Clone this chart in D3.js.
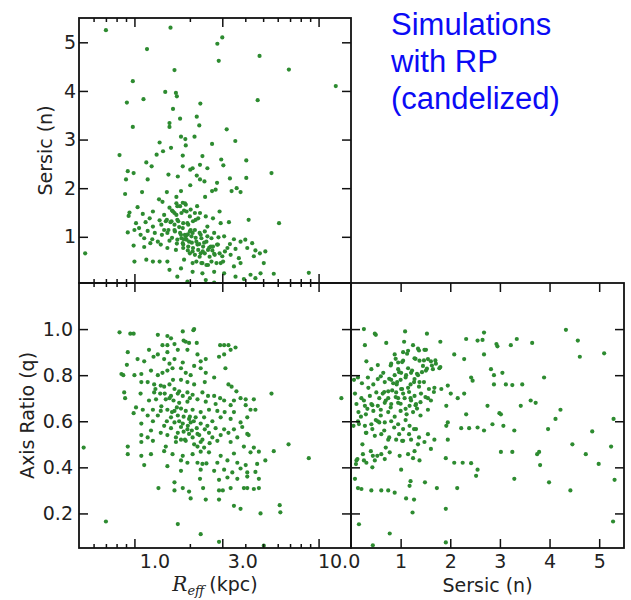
<!doctype html>
<html lang="en">
<head>
<meta charset="utf-8">
<script src="https://cdnjs.cloudflare.com/ajax/libs/d3/7.8.5/d3.min.js"></script>
<style>
  body { margin: 0; background: #fff; }
  svg { display: block; }
  .axis text { font-family: 'DejaVu Sans', sans-serif; font-size: 19px; fill: #222; }
  .axis line { stroke: #111; stroke-width: 1.5; }
  .frame { fill: none; stroke: #111; stroke-width: 1.8; }
  .dot { fill: #2d8b30; }
  .label { font-family: 'DejaVu Sans', sans-serif; font-size: 19px; fill: #222; }
  .note { font-family: 'Liberation Sans', Arial, sans-serif; font-size: 31px; fill: #0b0bf5; }
</style>
</head>
<body>
<script>

// ---- data ----
// top-left: effective radius (kpc) vs Sersic index
const reffSersic = [
  [0.70,5.25],[1.57,5.30],[1.17,4.86],[2.82,4.97],[3.0,5.10],[2.87,4.62],[4.78,4.72],[6.9,4.44],[1.65,4.43],[0.98,4.20],
  [12.4,4.10],[0.91,3.76],[1.12,3.83],[4.67,3.81],[1.47,3.98],[1.68,3.96],[1.70,3.89],[2.28,3.74],[1.62,3.63],[2.18,3.47],
  [1.77,3.43],[1.55,3.34],[1.55,3.26],[2.25,3.29],[0.98,3.26],[3.17,3.21],[1.79,3.06],[1.89,3.01],[2.12,3.06],[1.90,2.88],
  [2.64,2.91],[3.53,2.97],[1.37,2.94],[1.58,2.83],[1.43,2.76],[1.32,2.69],[0.83,2.68],[1.83,2.67],[2.34,2.66],[2.96,2.59],
  [4.05,2.57],[1.16,2.53],[1.24,2.45],[1.83,2.45],[2.27,2.48],[3.04,2.47],[2.07,2.41],[2.49,2.41],[2.01,2.38],[0.92,2.35],
  [0.99,2.31],[5.55,2.31],[1.53,2.28],[2.18,2.26],[1.72,2.24],[1.18,2.18],[2.27,2.18],[2.40,2.14],[0.90,2.18],[4.05,2.21],
  [3.30,2.20],[2.81,2.11],[2.01,2.06],[3.59,2.0],[3.77,1.92],[3.37,1.94],[2.76,1.97],[2.64,1.94],[1.50,1.92],[1.79,1.94],
  [0.89,1.88],[1.10,1.92],[2.42,1.82],[1.69,1.82],[1.36,1.77],[1.42,1.72],[1.04,1.61],[1.83,1.70],[1.90,1.66],[2.19,1.63],
  [2.90,1.52],[0.94,1.50],[1.26,1.52],[0.93,1.43],[1.11,1.47],[1.60,1.54],[1.71,1.63],[1.65,1.49],[1.86,1.54],[2.02,1.56],
  [2.27,1.49],[2.44,1.42],[2.67,1.38],[1.48,1.32],[1.37,1.34],[1.57,1.30],[1.71,1.35],[1.94,1.28],[2.15,1.35],[1.21,1.38],
  [1.02,1.28],[4.17,1.35],[6.1,1.28],[3.26,1.30],[2.94,1.28],[2.49,1.21],[2.02,1.14],[1.83,1.18],[1.65,1.14],[1.45,1.14],
  [1.26,1.21],[1.18,1.12],[1.06,1.18],[1.0,1.14],[0.92,1.09],[1.08,1.04],[1.29,1.08],[1.41,1.04],[1.51,1.08],[1.79,1.04],
  [1.90,1.01],[2.07,1.08],[2.29,1.04],[2.49,1.01],[2.71,1.08],[2.86,0.99],[3.07,1.01],[3.47,0.95],[3.77,0.90],[4.0,0.94],
  [4.36,0.87],[1.13,0.97],[1.22,0.87],[1.34,0.90],[1.55,0.92],[1.71,0.94],[1.83,0.87],[1.98,0.90],[2.20,0.84],[2.39,0.88],
  [2.60,0.80],[2.81,0.84],[3.20,0.77],[3.54,0.75],[4.10,0.77],[4.54,0.72],[4.80,0.66],[5.14,0.70],[0.54,0.66],[0.99,0.82],
  [1.13,0.79],[1.39,0.84],[1.51,0.77],[1.68,0.73],[1.84,0.77],[2.07,0.70],[2.29,0.66],[2.71,0.65],[3.0,0.60],[3.33,0.63],
  [3.69,0.56],[4.45,0.60],[5.04,0.46],[1.0,0.49],[1.16,0.53],[1.26,0.49],[1.37,0.49],[1.51,0.49],[1.86,0.53],[2.07,0.46],
  [2.34,0.46],[2.51,0.42],[2.94,0.46],[3.47,0.39],[3.77,0.46],[1.55,0.32],[1.79,0.35],[2.07,0.28],[2.34,0.25],[2.71,0.28],
  [3.07,0.25],[3.54,0.18],[4.27,0.22],[4.84,0.25],[5.71,0.24],[8.85,0.26],[1.71,0.18],[2.44,0.11],[3.93,0.13],[4.54,0.15],
  [1.94,0.08],[2.71,0.06],
  [1.69,1.69],[1.77,1.63],[1.88,1.69],[1.62,1.52],[1.69,1.45],[1.80,1.49],[1.92,1.52],[2.0,1.42],[2.13,1.49],[1.50,1.35],
  [1.59,1.32],[1.73,1.32],[1.84,1.28],[1.96,1.25],[2.08,1.32],[2.22,1.38],[1.53,1.14],[1.66,1.11],[1.77,1.08],[1.88,1.04],
  [2.0,1.11],[2.13,1.14],[2.26,1.08],[2.41,1.11],[1.80,0.97],[1.92,0.94],[2.04,1.01],[2.17,0.90],[2.31,0.97],[2.46,0.90],
  [2.62,0.97],[1.84,0.84],[1.96,0.80],[2.08,0.77],[2.22,0.73],[2.36,0.80],[2.51,0.73],[2.67,0.80],[2.84,0.84],[2.0,0.66],
  [2.13,0.63],[2.26,0.59],[2.41,0.66],[2.56,0.59],[2.73,0.63],[2.90,0.66],[2.17,0.49],[2.31,0.46],[2.46,0.42],[2.62,0.49],
  [2.79,0.46],[3.03,0.49],
  [1.45,1.45],[1.55,1.60],[1.65,1.25],[1.75,1.20],[1.85,0.95],[1.95,1.05],[2.05,0.88],[2.15,0.98],[1.60,0.98],[1.70,0.86],
  [2.25,0.85],[2.35,0.70],[2.55,0.78],[1.40,1.25],[1.95,0.72],[2.65,0.72],[3.10,0.70],[3.30,0.85],[1.25,0.95],[1.15,1.30]
];

// bottom-left: effective radius (kpc) vs axis ratio
const reffAxis = [
  [0.83,0.986],[0.95,0.98],[0.99,0.98],[1.34,0.975],[1.51,0.97],[1.83,0.99],[2.09,0.995],[2.11,1.0],[0.92,0.90],[0.91,0.845],
  [1.04,0.87],[1.13,0.86],[1.20,0.91],[1.27,0.88],[1.34,0.89],[1.42,0.93],[1.51,0.93],[1.58,0.96],[1.65,0.935],[1.85,0.95],
  [1.90,0.945],[1.98,0.94],[2.18,0.94],[2.92,0.93],[3.07,0.93],[3.24,0.93],[3.54,0.92],[3.33,0.91],[3.07,0.89],[2.88,0.88],
  [1.51,0.90],[1.72,0.91],[1.94,0.91],[2.20,0.89],[2.29,0.86],[2.44,0.87],[1.45,0.87],[1.65,0.87],[1.83,0.855],[2.11,0.84],
  [3.12,0.83],[0.85,0.805],[0.87,0.80],[1.0,0.80],[1.09,0.805],[1.23,0.82],[1.34,0.80],[1.42,0.81],[1.51,0.82],[1.61,0.83],
  [1.79,0.83],[1.90,0.81],[2.02,0.80],[2.29,0.83],[2.44,0.81],[2.71,0.79],[1.79,0.78],[1.94,0.77],[2.11,0.76],[2.41,0.77],
  [1.09,0.77],[1.18,0.77],[1.28,0.76],[1.39,0.755],[1.55,0.76],[1.65,0.74],[3.24,0.76],[3.37,0.75],[3.58,0.73],[5.55,0.72],
  [0.88,0.725],[1.08,0.72],[1.28,0.725],[1.38,0.72],[1.46,0.72],[1.58,0.71],[1.72,0.72],[1.83,0.71],[1.94,0.725],[2.07,0.715],
  [2.34,0.725],[2.51,0.71],[2.71,0.71],[2.92,0.70],[3.07,0.69],[3.47,0.69],[3.77,0.70],[4.02,0.695],[4.45,0.695],[0.89,0.70],
  [1.20,0.69],[1.31,0.695],[1.48,0.695],[1.63,0.69],[1.75,0.68],[1.94,0.685],[2.20,0.695],[2.44,0.685],[2.76,0.675],[3.33,0.67],
  [4.02,0.67],[4.27,0.65],[4.54,0.65],[1.02,0.66],[1.11,0.65],[1.26,0.65],[1.39,0.645],[1.51,0.65],[1.65,0.645],[1.79,0.655],
  [1.90,0.645],[2.07,0.65],[2.29,0.64],[2.54,0.65],[2.82,0.645],[3.09,0.64],[3.47,0.64],[0.99,0.635],[1.18,0.625],[1.34,0.625],
  [1.58,0.617],[1.72,0.625],[1.98,0.61],[2.15,0.617],[2.39,0.617],[2.65,0.60],[2.94,0.617],[3.33,0.61],[4.10,0.617],[1.26,0.60],
  [1.65,0.595],[1.83,0.59],[2.02,0.595],[2.29,0.59],[2.49,0.58],[3.77,0.595],[1.09,0.59],[1.45,0.58],[1.58,0.57],[1.79,0.575],
  [1.94,0.565],[2.18,0.57],[2.41,0.565],[2.76,0.57],[3.07,0.565],[3.47,0.565],[3.85,0.575],[1.23,0.56],[1.39,0.55],[1.72,0.55],
  [1.98,0.545],[2.20,0.545],[2.54,0.55],[3.24,0.55],[4.10,0.545],[1.09,0.54],[1.18,0.53],[1.51,0.54],[1.88,0.52],[2.07,0.53],
  [2.34,0.52],[2.65,0.53],[2.94,0.54],[3.62,0.53],[4.17,0.54],[1.09,0.51],[1.26,0.515],[1.68,0.51],[1.90,0.515],[2.11,0.50],
  [2.29,0.51],[2.56,0.505],[2.82,0.515],[3.33,0.51],[6.87,0.50],[0.92,0.49],[1.48,0.49],[1.79,0.52],[2.20,0.49],[2.39,0.486],
  [3.93,0.49],[4.45,0.486],[0.53,0.486],[0.92,0.457],[1.09,0.45],[1.23,0.457],[1.45,0.47],[1.61,0.457],[1.83,0.45],[2.07,0.457],
  [2.29,0.468],[2.54,0.465],[2.94,0.45],[3.47,0.46],[4.27,0.465],[4.74,0.468],[5.71,0.47],[8.85,0.44],[1.13,0.41],[1.51,0.405],
  [1.79,0.43],[1.94,0.42],[2.20,0.42],[2.34,0.415],[2.46,0.417],[2.82,0.42],[3.20,0.43],[3.62,0.42],[4.02,0.41],[4.64,0.415],
  [5.14,0.43],[1.79,0.385],[2.29,0.39],[2.71,0.385],[3.07,0.39],[3.40,0.378],[3.77,0.395],[4.10,0.378],[4.54,0.38],[2.27,0.35],
  [2.88,0.346],[3.20,0.356],[3.62,0.35],[4.10,0.36],[4.74,0.35],[1.65,0.335],[1.83,0.31],[1.98,0.295],[1.35,0.31],[1.65,0.30],
  [2.36,0.31],[2.88,0.30],[3.02,0.30],[3.33,0.31],[3.93,0.31],[4.10,0.31],[4.45,0.306],[4.74,0.31],[2.02,0.265],[2.44,0.26],
  [2.88,0.26],[3.47,0.233],[3.77,0.22],[4.84,0.20],[6.15,0.236],[6.2,0.205],[0.70,0.165],[1.72,0.154],[2.29,0.11],[2.88,0.077],
  [5.04,0.06],[13.3,0.70],
  [1.55,0.70],[1.70,0.66],[1.85,0.62],[1.75,0.60],[1.95,0.58],[2.05,0.56],[1.60,0.64],[1.45,0.75],[1.62,0.78],[1.75,0.73],
  [2.0,0.70],[1.50,0.60],[1.85,0.555],[2.10,0.60],[1.40,0.665],[1.68,0.53],[2.25,0.54],[1.30,0.74],[1.55,0.85],[2.00,0.62]
];

// bottom-right: Sersic index vs axis ratio
const sersicAxis = [
  [0.26,1.0],[0.48,0.98],[0.50,0.975],[1.09,0.99],[1.53,0.98],[2.68,0.985],[2.32,0.957],[2.55,0.95],[2.65,0.953],[2.93,0.935],
  [2.95,0.925],[3.22,0.93],[3.34,0.957],[3.65,0.94],[4.33,0.997],[4.57,0.95],[4.61,0.88],[5.10,0.895],[0.28,0.93],[0.71,0.94],
  [1.07,0.945],[1.25,0.93],[1.35,0.915],[1.48,0.91],[1.51,0.91],[1.80,0.945],[2.08,0.89],[2.28,0.87],[2.68,0.89],[1.55,0.87],
  [1.61,0.86],[1.71,0.85],[1.78,0.83],[1.65,0.826],[0.88,0.89],[1.05,0.90],[1.15,0.906],[0.31,0.86],[0.41,0.826],[0.54,0.844],
  [0.81,0.85],[0.95,0.855],[1.05,0.863],[1.28,0.873],[1.38,0.863],[1.45,0.84],[1.51,0.82],[1.35,0.80],[0.95,0.826],[1.01,0.81],
  [1.11,0.80],[1.21,0.81],[1.28,0.783],[1.38,0.77],[0.88,0.80],[0.81,0.78],[0.68,0.77],[0.54,0.783],[0.34,0.79],[0.14,0.79],
  [0.06,0.78],[2.82,0.826],[2.88,0.80],[3.05,0.81],[3.89,0.79],[3.12,0.76],[3.25,0.757],[3.45,0.76],[2.88,0.76],[2.42,0.79],
  [2.45,0.776],[1.95,0.755],[1.68,0.745],[1.82,0.74],[2.01,0.72],[2.15,0.70],[2.28,0.72],[1.15,0.745],[1.01,0.74],[0.91,0.725],
  [0.75,0.73],[0.64,0.72],[0.51,0.725],[0.38,0.71],[0.21,0.70],[0.08,0.72],[1.28,0.71],[1.41,0.72],[1.55,0.70],[1.61,0.69],
  [1.21,0.69],[1.08,0.70],[0.95,0.68],[0.81,0.675],[0.68,0.68],[0.54,0.667],[0.41,0.675],[0.28,0.667],[0.11,0.675],[1.18,0.667],
  [1.31,0.675],[1.92,0.667],[2.32,0.63],[2.75,0.667],[2.99,0.635],[3.02,0.63],[3.42,0.667],[3.62,0.69],[3.72,0.68],[4.22,0.65],
  [4.12,0.61],[5.29,0.61],[3.97,0.566],[4.86,0.556],[3.29,0.56],[3.07,0.58],[2.85,0.587],[2.68,0.56],[2.55,0.573],[2.38,0.57],
  [2.22,0.57],[1.95,0.595],[1.92,0.58],[1.95,0.52],[1.68,0.52],[1.55,0.544],[1.31,0.566],[1.18,0.58],[1.05,0.566],[0.95,0.587],
  [0.81,0.60],[0.68,0.595],[0.54,0.60],[0.41,0.587],[0.28,0.58],[0.14,0.60],[0.05,0.58],[0.31,0.55],[0.48,0.537],[0.61,0.544],
  [0.75,0.52],[0.91,0.52],[1.05,0.515],[1.21,0.52],[1.35,0.50],[1.48,0.51],[1.61,0.48],[1.28,0.47],[1.15,0.457],[0.98,0.45],
  [0.78,0.465],[0.61,0.457],[0.44,0.45],[0.24,0.457],[0.11,0.43],[0.31,0.42],[0.48,0.43],[0.68,0.436],[1.01,0.39],[1.25,0.44],
  [1.38,0.43],[1.91,0.44],[2.08,0.42],[2.25,0.42],[2.42,0.418],[2.55,0.39],[2.52,0.363],[3.02,0.467],[3.25,0.467],[3.75,0.457],
  [3.79,0.467],[4.46,0.50],[4.73,0.457],[5.24,0.49],[4.99,0.415],[3.81,0.41],[3.99,0.335],[4.42,0.30],[5.31,0.346],[3.29,0.35],
  [1.91,0.22],[2.14,0.31],[1.73,0.31],[1.49,0.335],[1.20,0.34],[1.18,0.32],[1.27,0.26],[1.11,0.265],[0.88,0.29],[0.75,0.30],
  [0.61,0.30],[0.41,0.30],[0.14,0.31],[0.21,0.306],[0.08,0.35],[1.24,0.204],[0.16,0.153],[0.78,0.113],[0.44,0.062],[1.91,0.074],
  [5.28,0.165],
  [0.70,0.69],[0.80,0.66],[0.90,0.705],[1.0,0.676],[1.10,0.654],[1.20,0.70],[1.30,0.67],[1.40,0.683],[1.50,0.705],[0.67,0.727],
  [0.83,0.734],[0.93,0.77],[1.03,0.74],[1.17,0.727],[1.27,0.77],[1.37,0.75],[1.47,0.77],[1.57,0.74],[1.67,0.727],[0.77,0.784],
  [0.97,0.813],[1.10,0.79],[1.23,0.82],[1.33,0.806],[1.43,0.813],[1.53,0.828],[1.63,0.842],[1.03,0.857],[1.13,0.893],[1.30,0.871],
  [1.37,0.907],[1.47,0.864],[0.90,0.871],[0.80,0.842],[1.70,0.864],[1.80,0.835],[0.57,0.70],[0.43,0.67],[0.33,0.654],[0.26,0.69],
  [0.16,0.588],[0.30,0.55],[0.43,0.566],[0.57,0.595],[0.67,0.56],[0.77,0.53],[0.87,0.573],[0.97,0.544],[1.03,0.515],[1.17,0.544],
  [1.27,0.566],[1.37,0.53],[0.23,0.50],[0.40,0.47],[0.53,0.45],[0.70,0.486],[0.13,0.436],[0.10,0.414],[0.26,0.43],[0.43,0.40],
  [0.15,0.64],[0.30,0.63],[0.45,0.645],[0.60,0.625],[0.75,0.64],[0.88,0.62],[1.0,0.645],[1.12,0.63],[1.25,0.64],[1.40,0.625],
  [1.55,0.65],[0.22,0.765],[0.45,0.76],[0.60,0.795],[0.85,0.765],[1.0,0.78],[1.20,0.76],[0.35,0.745],[0.95,0.70],[1.05,0.72],
  [0.75,0.70],[0.60,0.65],[1.33,0.655],[0.50,0.605],[1.10,0.605],[0.20,0.62],[0.92,0.76],[1.15,0.83],[0.65,0.81]
];

// ticks
const reffTicks = [1, 3, 10];
const reffMinor = [0.6, 0.7, 0.8, 0.9, 2, 4, 5, 6, 7, 8, 9];
const sersicTicks = [1, 2, 3, 4, 5];
const axisTicks = [0.2, 0.4, 0.6, 0.8, 1.0];
const noteLines = ["Simulations", "with RP", "(candelized)"];

// ---- layout ----
const w = 631, h = 600;
const xLeft = 79, xMid = 351, xRight = 624;
const yTop = 18, ySplit = 283, yBottom = 548;

const xReff = d3.scaleLog().domain([0.5, 15]).range([xLeft, xMid]);
const ySersic = d3.scaleLinear().domain([0.05, 5.5]).range([ySplit, yTop]);
const yRatio = d3.scaleLinear().domain([0.05, 1.2]).range([yBottom, ySplit]);
const xSersic = d3.scaleLinear().domain([0, 5.5]).range([xMid, xRight]);

const svg = d3.select("body").append("svg")
  .attr("width", w)
  .attr("height", h);

// draws one edge of a panel: ticks pointing inward, optional labels
function edge(axis, pos, values, size, labels, pad) {
  const g = svg.append("g")
    .attr("class", "axis")
    .attr("transform", pos)
    .call(axis.tickValues(values).tickSize(-size).tickSizeOuter(0)
      .tickPadding(pad || 6).tickFormat(labels || (() => "")));
  g.select(".domain").remove();
  g.attr("font-size", null).attr("font-family", null);
  return g;
}

function panel(x, y, data, id) {
  const x0 = x.range()[0], x1 = x.range()[1];
  const y0 = y.range()[1], y1 = y.range()[0];

  svg.append("clipPath").attr("id", id)
    .append("rect").attr("x", x0).attr("y", y0)
    .attr("width", x1 - x0).attr("height", y1 - y0);

  svg.append("g").attr("clip-path", "url(#" + id + ")")
    .selectAll("circle")
    .data(data)
    .enter()
    .append("circle")
    .attr("class", "dot")
    .attr("cx", d => x(d[0]))
    .attr("cy", d => y(d[1]))
    .attr("r", 2.1);

  svg.append("rect").attr("class", "frame")
    .attr("x", x0).attr("y", y0)
    .attr("width", x1 - x0).attr("height", y1 - y0);
}

// top-left: Reff vs Sersic
panel(xReff, ySersic, reffSersic, "clipA");
edge(d3.axisBottom(xReff), `translate(0,${ySplit})`, reffTicks, 9);
edge(d3.axisBottom(xReff), `translate(0,${ySplit})`, reffMinor, 4);
edge(d3.axisTop(xReff), `translate(0,${yTop})`, reffTicks, 9);
edge(d3.axisTop(xReff), `translate(0,${yTop})`, reffMinor, 4);
edge(d3.axisLeft(ySersic), `translate(${xLeft},0)`, sersicTicks, 9, d3.format("d"), 3);
edge(d3.axisRight(ySersic), `translate(${xMid},0)`, sersicTicks, 9);

// bottom-left: Reff vs axis ratio
panel(xReff, yRatio, reffAxis, "clipB");
edge(d3.axisBottom(xReff), `translate(0,${yBottom})`, reffTicks, 9, d3.format(".1f"), 7)
  .selectAll("text").attr("dx", 20);
edge(d3.axisBottom(xReff), `translate(0,${yBottom})`, reffMinor, 4);
edge(d3.axisTop(xReff), `translate(0,${ySplit})`, reffTicks, 9);
edge(d3.axisTop(xReff), `translate(0,${ySplit})`, reffMinor, 4);
edge(d3.axisLeft(yRatio), `translate(${xLeft},0)`, axisTicks, 9, d3.format(".1f"), 6);
edge(d3.axisRight(yRatio), `translate(${xMid},0)`, axisTicks, 9);

// bottom-right: Sersic vs axis ratio
panel(xSersic, yRatio, sersicAxis, "clipC");
edge(d3.axisBottom(xSersic), `translate(0,${yBottom})`, sersicTicks, 9, d3.format("d"), 7);
edge(d3.axisTop(xSersic), `translate(0,${ySplit})`, sersicTicks, 9);
edge(d3.axisLeft(yRatio), `translate(${xMid},0)`, axisTicks, 9);
edge(d3.axisRight(yRatio), `translate(${xRight},0)`, axisTicks, 9);

// axis titles
svg.append("text").attr("class", "label")
  .attr("transform", `translate(52,${(yTop + ySplit) / 2}) rotate(-90)`)
  .attr("text-anchor", "middle")
  .text("Sersic (n)");

svg.append("text").attr("class", "label")
  .attr("transform", `translate(34,${(ySplit + yBottom) / 2}) rotate(-90)`)
  .attr("text-anchor", "middle")
  .text("Axis Ratio (q)");

svg.append("text").attr("class", "label")
  .attr("x", (xMid + xRight) / 2)
  .attr("y", 592)
  .attr("text-anchor", "middle")
  .text("Sersic (n)");

const reffLabel = svg.append("text").attr("class", "label")
  .attr("x", (xLeft + xMid) / 2)
  .attr("y", 591)
  .attr("text-anchor", "middle");
reffLabel.append("tspan")
  .attr("font-family", "'DejaVu Serif', serif")
  .attr("font-style", "italic")
  .attr("font-size", 20)
  .text("R");
reffLabel.append("tspan")
  .attr("font-family", "'DejaVu Serif', serif")
  .attr("font-style", "italic")
  .attr("font-size", 13)
  .attr("dy", 4)
  .text("eff");
reffLabel.append("tspan")
  .attr("dy", -4)
  .attr("dx", 5)
  .text("(kpc)");

// blue note
svg.append("g").selectAll("text")
  .data(noteLines)
  .enter()
  .append("text")
  .attr("class", "note")
  .attr("x", 391)
  .attr("y", (d, i) => 35 + i * 36.8)
  .text(d => d);

</script>
</body>
</html>
